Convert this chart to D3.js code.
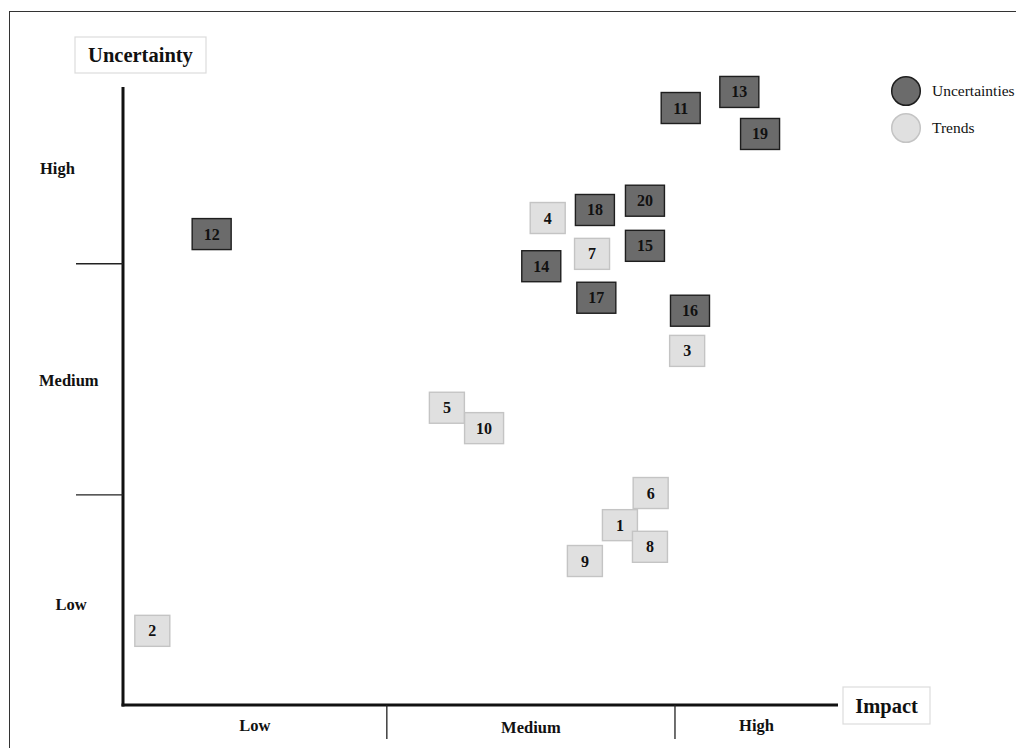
<!DOCTYPE html>
<html><head><meta charset="utf-8">
<script src="https://cdn.jsdelivr.net/npm/d3@7"></script>
<style>html,body{margin:0;padding:0;background:#fff;}svg{display:block;}</style>
</head><body>
<svg id="c" width="1016" height="748"></svg>
<script>
// ---- data ----
const ids        = [1,2,3,4,5,6,7,8,9,10,11,12,13,14,15,16,17,18,19,20];
const impact     = [69.5,4.1,78.9,59.4,45.3,73.8,65.6,73.7,64.6,50.5,78.0,12.4,86.2,58.5,73.0,79.3,66.2,66.0,89.1,73.0];
const uncertainty= [29.1,12.0,57.3,78.8,48.1,34.3,73.0,25.6,23.3,44.8,96.6,76.2,99.2,71.0,74.3,63.8,65.9,80.1,92.4,81.6];
const types      = ["Trends","Trends","Trends","Trends","Trends","Trends","Trends","Trends","Trends","Trends",
                    "Uncertainties","Uncertainties","Uncertainties","Uncertainties","Uncertainties","Uncertainties","Uncertainties","Uncertainties","Uncertainties","Uncertainties"];
const levelLabels = ["Low","Medium","High"];
const xTicks = [36.9, 77.2];
const yTicks = [34.0, 71.4];
const legendItems = ["Uncertainties","Trends"];

const font = "'Liberation Serif','Times New Roman',serif";
const svg = d3.select("#c");
const x = d3.scaleLinear().domain([0,100]).range([123,838]);
const y = d3.scaleLinear().domain([0,100]).range([705,87]);
const fillC = d3.scaleOrdinal().domain(legendItems).range(["#6b6b6b","#e0e0e0"]);
const strokeC = d3.scaleOrdinal().domain(legendItems).range(["#1e1e1e","#c4c4c4"]);

// outer frame
svg.append("rect").attr("x",9.5).attr("y",11.5).attr("width",1020).attr("height",760)
  .attr("fill","none").attr("stroke","#333").attr("stroke-width",1);

// axes
svg.append("line").attr("x1",x(0)).attr("x2",x(0)).attr("y1",y(100)).attr("y2",y(0)+1.5)
  .attr("stroke","#111").attr("stroke-width",3);
svg.append("line").attr("x1",x(0)-1.5).attr("x2",x(100)).attr("y1",y(0)).attr("y2",y(0))
  .attr("stroke","#111").attr("stroke-width",3);

// ticks
svg.selectAll(".yt").data(yTicks).join("line")
  .attr("x1",76).attr("x2",x(0)).attr("y1",d=>y(d)).attr("y2",d=>y(d))
  .attr("stroke","#222").attr("stroke-width",1.3);
svg.selectAll(".xt").data(xTicks).join("line")
  .attr("x1",d=>x(d)).attr("x2",d=>x(d)).attr("y1",y(0)).attr("y2",739)
  .attr("stroke","#222").attr("stroke-width",1.3);

// band labels
const xb = [0,...xTicks,100], yb = [0,...yTicks,100];
svg.selectAll(".xl").data(levelLabels).join("text")
  .attr("x",(d,i)=>x((xb[i]+xb[i+1])/2)).attr("y",(d,i)=> i===1?733:731)
  .attr("text-anchor","middle").attr("font-family",font).attr("font-weight","bold")
  .attr("font-size",16.5).attr("fill","#111").text(d=>d);
const yLabelPos = [[71,"middle",16.3],[39,"start",52.6],[40,"start",86.9]];
svg.selectAll(".yl").data(levelLabels).join("text")
  .attr("x",(d,i)=>yLabelPos[i][0]).attr("y",(d,i)=>y(yLabelPos[i][2])+6)
  .attr("text-anchor",(d,i)=>yLabelPos[i][1]).attr("font-family",font).attr("font-weight","bold")
  .attr("font-size",16.5).attr("fill","#111").text(d=>d);

// axis titles
function titleBox(cx, cy, w, h, txt){
  svg.append("rect").attr("x",cx-w/2).attr("y",cy-h/2).attr("width",w).attr("height",h)
    .attr("fill","#fff").attr("stroke","#dcdcdc").attr("stroke-width",1.2);
  svg.append("text").attr("x",cx).attr("y",cy+7).attr("text-anchor","middle")
    .attr("font-family",font).attr("font-weight","bold").attr("font-size",20.5).attr("fill","#111").text(txt);
}
titleBox(140.5,55,131,36,"Uncertainty");
titleBox(886.5,705.5,87,37,"Impact");

// points
const pts = ids.map((id,i)=>({id, ix:impact[i], uy:uncertainty[i], t:types[i]}));
const g = svg.selectAll(".pt").data(pts).join("g")
  .attr("transform",d=>`translate(${x(d.ix)},${y(d.uy)})`);
g.append("rect")
  .attr("x",d=> d.id>=10 ? -19.5 : -17.5).attr("y",-15.5)
  .attr("width",d=> d.id>=10 ? 39 : 35).attr("height",31)
  .attr("fill",d=>fillC(d.t)).attr("stroke",d=>strokeC(d.t)).attr("stroke-width",1.4);
g.append("text").attr("text-anchor","middle").attr("y",5.5)
  .attr("font-family",font).attr("font-weight","bold").attr("font-size",16).attr("fill","#111")
  .text(d=>d.id);

// legend
const lg = svg.selectAll(".lg").data(legendItems).join("g")
  .attr("transform",(d,i)=>`translate(906,${91+i*37})`);
lg.append("circle").attr("r",14.3).attr("fill",d=>fillC(d)).attr("stroke",d=>strokeC(d)).attr("stroke-width",1.5);
lg.append("text").attr("x",26).attr("y",5).attr("font-family",font).attr("font-size",15.5)
  .attr("fill","#111").text(d=>d);
</script>
</body></html>
